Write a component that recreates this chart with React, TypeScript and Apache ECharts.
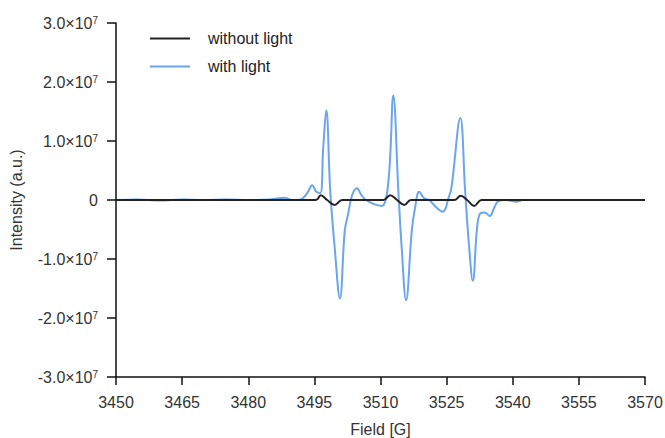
import React, { useEffect, useRef } from "react";
import * as echarts from "echarts";

// Field [G] and intensity (units of 1e6) for each series
const withLightField = [3450, 3455, 3460, 3465, 3470, 3475, 3480, 3485, 3488.3, 3489.9, 3491.9, 3493.4, 3494.5, 3495.45, 3496.35, 3497.0, 3497.7, 3498.6, 3499.6, 3500.8, 3501.9, 3502.7, 3503.55, 3504.65, 3505.7, 3506.7, 3508.5, 3510.3, 3511.8, 3512.9, 3514.05, 3514.8, 3515.8, 3517.1, 3517.8, 3518.8, 3519.9, 3521.05, 3522.55, 3524.1, 3525.5, 3526.1, 3528.1, 3529.2, 3530.0, 3530.95, 3531.85, 3532.5, 3533.6, 3534.8, 3535.8, 3536.7, 3538.4, 3540.9, 3542.3, 3550, 3560, 3570];
const withLightValue = [0, 0.1, -0.1, 0.1, 0, 0.1, 0, 0.1, 0.4, 0, 0.1, 1.2, 2.5, 1.4, 1.2, 8.8, 15.2, 1.5, -8.0, -16.7, -5.2, -2.2, 0.8, 2.0, 0.8, 0, -0.7, -1.0, 3.2, 17.7, 1.5, -8.0, -17.0, -5.2, -1.5, 1.4, 0.3, 0, -1.2, -2.0, 0.5, 2.1, 13.9, 1.5, -6.9, -13.7, -5.2, -2.4, -2.1, -2.7, -1.3, -0.2, 0, -0.3, 0, 0, 0, 0];

const withoutLightField = [3450, 3470, 3495.35, 3496.45, 3497.9, 3499.6, 3501.3, 3510.7, 3512.2, 3513.75, 3515.4, 3516.9, 3526.7, 3528.2, 3529.65, 3531.25, 3532.9, 3570];
const withoutLightValue = [0, 0, 0, 0.8, 0, -0.85, 0, 0, 0.8, 0, -0.85, 0, 0, 0.7, 0, -1.0, 0, 0];

const seriesNames = ["without light", "with light"];
const xTicks = [3450, 3465, 3480, 3495, 3510, 3525, 3540, 3555, 3570];

const FONT = "'Liberation Sans', Arial, sans-serif";
const FS = 16;

export default function App() {
  const ref = useRef<HTMLDivElement>(null);
  useEffect(() => {
    if (!ref.current) return;
    const chart = echarts.init(ref.current, undefined, { renderer: "svg" });
    const toPairs = (xs: number[], ys: number[]) => xs.map((x, i) => [x, ys[i] * 1e6]);
    chart.setOption({
      animation: false,
      backgroundColor: "#fff",
      textStyle: { fontFamily: FONT },
      grid: { left: 116, right: 20, top: 23, bottom: 61, outerBoundsMode: "none", containLabel: false },
      legend: {
        orient: "vertical",
        left: 145,
        top: 25,
        itemWidth: 40,
        itemHeight: 2,
        itemGap: 11,
        icon: "rect",
        textStyle: { fontSize: FS, color: "#222", fontFamily: FONT, padding: [0, 0, 0, 13], lineHeight: 17 },
        data: seriesNames,
      },
      xAxis: {
        type: "value",
        min: 3450,
        max: 3570,
        interval: 15,
        name: "Field [G]",
        nameLocation: "middle",
        nameGap: 44,
        nameTextStyle: { fontSize: FS, color: "#333", fontFamily: FONT },
        axisLine: { onZero: false, lineStyle: { color: "#111", width: 1.5 } },
        axisTick: { show: true, length: 8, lineStyle: { color: "#111", width: 1.5 } },
        axisLabel: {
          fontSize: FS,
          color: "#333",
          margin: 17,
          fontFamily: FONT,
          formatter: (v: number) => (xTicks.includes(v) ? String(v) : ""),
        },
        splitLine: { show: false },
      },
      yAxis: {
        type: "value",
        min: -3e7,
        max: 3e7,
        interval: 1e7,
        name: "Intensity (a.u.)",
        nameLocation: "middle",
        nameGap: 92,
        nameTextStyle: { fontSize: FS, color: "#333", fontFamily: FONT },
        axisLine: { lineStyle: { color: "#111", width: 1.5 } },
        axisTick: { show: true, length: 9, lineStyle: { color: "#111", width: 1.5 } },
        axisLabel: {
          fontSize: FS,
          color: "#333",
          margin: 18,
          fontFamily: FONT,
          formatter: (v: number) => {
            if (Math.abs(v) < 1) return "0";
            return `${(v / 1e7).toFixed(1)}×10{sup|7}`;
          },
          rich: {
            sup: { fontSize: 10, color: "#333", fontFamily: FONT, padding: [0, 0, 6, 0] },
          },
        },
        splitLine: { show: false },
      },
      series: [
        {
          name: seriesNames[0],
          type: "line",
          data: toPairs(withoutLightField, withoutLightValue),
          smooth: 0.4,
          showSymbol: false,
          symbol: "none",
          z: 3,
          lineStyle: { color: "#222", width: 2 },
          itemStyle: { color: "#222" },
        },
        {
          name: seriesNames[1],
          type: "line",
          data: toPairs(withLightField, withLightValue),
          smooth: 0.4,
          showSymbol: false,
          symbol: "none",
          z: 2,
          lineStyle: { color: "#6AA5EE", width: 2 },
          itemStyle: { color: "#6AA5EE" },
        },
      ],
    });
    return () => chart.dispose();
  }, []);
  return <div ref={ref} style={{ width: 665, height: 438, position: "absolute", left: 0, top: 0 }} />;
}
